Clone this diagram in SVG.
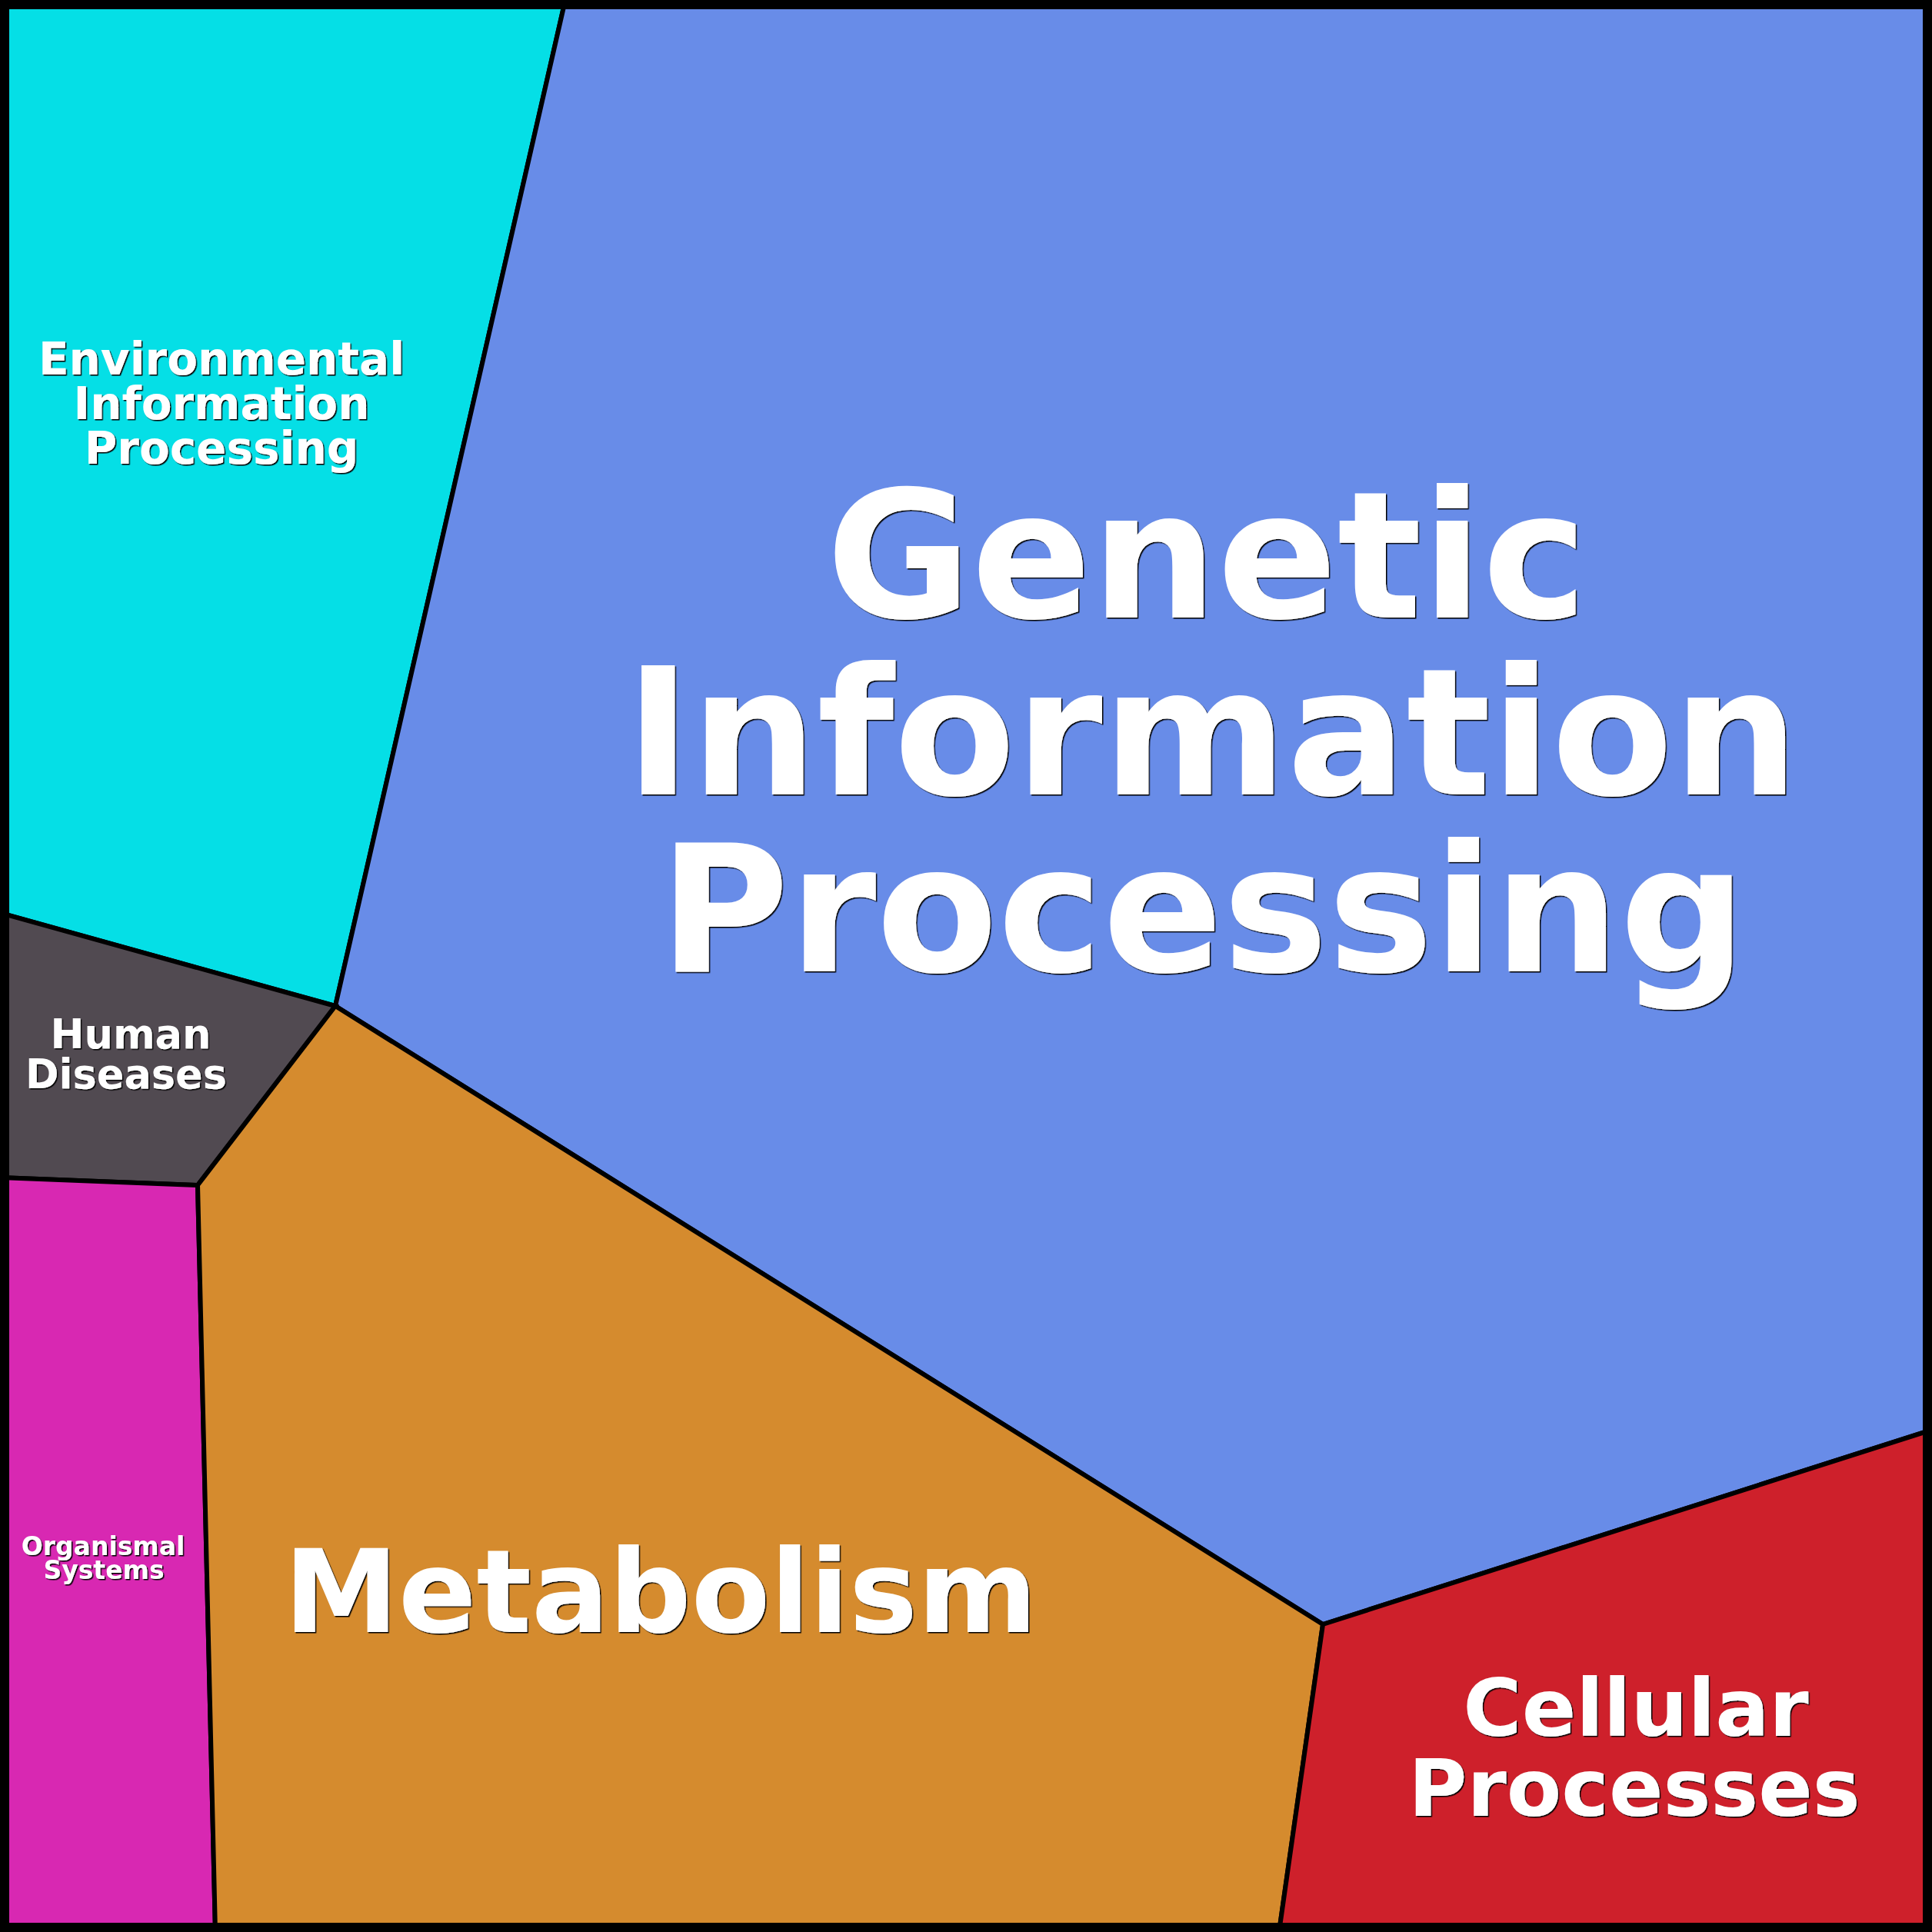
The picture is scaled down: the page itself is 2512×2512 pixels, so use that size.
<svg xmlns="http://www.w3.org/2000/svg" width="2512" height="2512" viewBox="0 0 2512 2512">
<style>
.region{stroke:#000;stroke-width:6;stroke-linejoin:miter}
.lbl{font-family:"DejaVu Sans","Liberation Sans",sans-serif;font-weight:bold;fill:#fff;text-anchor:middle;filter:url(#sh)}
</style>
<defs>
<filter id="sh" x="-5%" y="-5%" width="110%" height="110%">
<feDropShadow dx="1.5" dy="1.5" stdDeviation="0" flood-color="#000" flood-opacity="1"/>
</filter>
</defs>
<g id="environmental">
<polygon class="region" fill="#05dfe6" points="0,0 735,0 436,1308 0,1187"/>
<text class="lbl" font-size="58"><tspan x="288" y="487">Environmental</tspan><tspan x="288" y="545">Information</tspan><tspan x="288" y="603">Processing</tspan></text>
</g>
<g id="genetic">
<polygon class="region" fill="#688ce8" points="735,0 2512,0 2512,1859 1720,2112 436,1308"/>
<text class="lbl" font-size="230"><tspan x="1569" y="803">Genetic</tspan><tspan x="1576" y="1033">Information</tspan><tspan x="1564" y="1263">Processing</tspan></text>
</g>
<g id="human">
<polygon class="region" fill="#514a51" points="0,1187 436,1308 257,1541 0,1531"/>
<text class="lbl" font-size="52.5"><tspan x="170" y="1363">Human</tspan><tspan x="164" y="1415">Diseases</tspan></text>
</g>
<g id="organismal">
<polygon class="region" fill="#d828b2" points="0,1531 257,1541 280,2512 0,2512"/>
<text class="lbl" font-size="33"><tspan x="134" y="2022">Organismal</tspan><tspan x="135" y="2053">Systems</tspan></text>
</g>
<g id="metabolism">
<polygon class="region" fill="#d58b2e" points="436,1308 1720,2112 1663,2512 280,2512 257,1541"/>
<text class="lbl" font-size="149.5" x="859" y="2122">Metabolism</text>
</g>
<g id="cellular">
<polygon class="region" fill="#ce202b" points="1720,2112 2512,1859 2512,2512 1663,2512"/>
<text class="lbl" font-size="104"><tspan x="2127" y="2257">Cellular</tspan><tspan x="2125" y="2361">Processes</tspan></text>
</g>
<g id="connectors">
<rect x="6" y="6" width="2500" height="2500" fill="none" stroke="#000" stroke-width="12"/>
</g>
</svg>
